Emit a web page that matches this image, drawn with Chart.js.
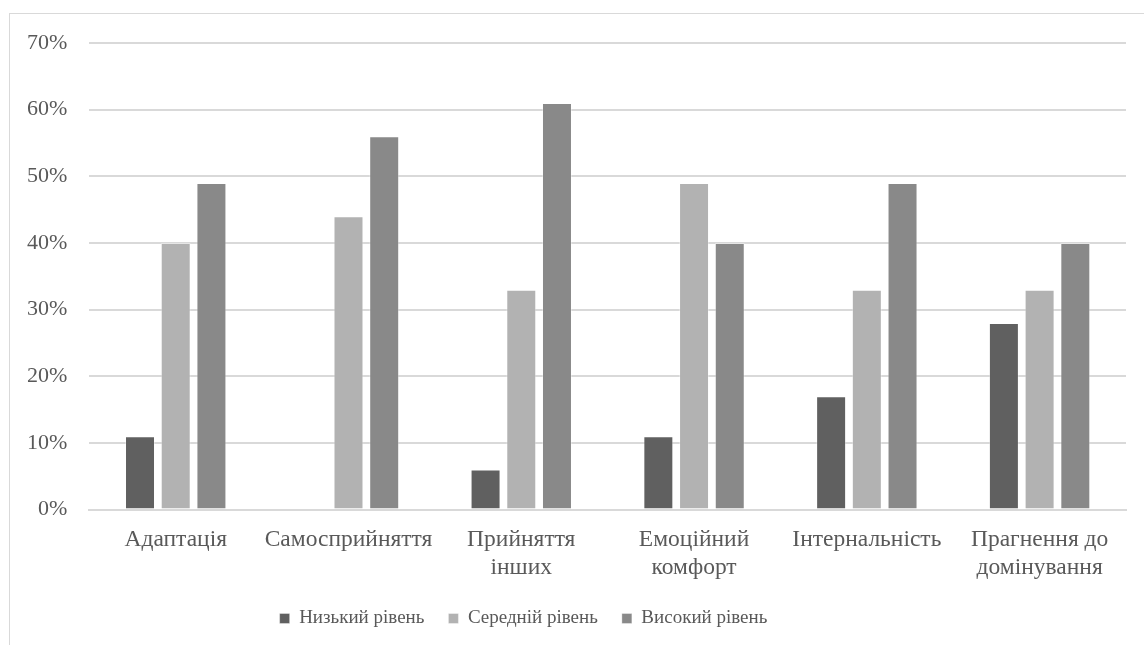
<!DOCTYPE html>
<html lang="uk">
<head>
<meta charset="utf-8">
<title>Рівні показників</title>
<script src="https://cdn.jsdelivr.net/npm/chart.js@4/dist/chart.umd.min.js"></script>
<style>
  html, body { margin: 0; padding: 0; background: #fff; overflow: hidden; }
  #frame {
    position: absolute; left: 9px; top: 13px;
    width: 1200px; height: 700px;
    border: 1px solid #d9d9d9;
  }
  #wrap { position: absolute; left: 0; top: 0; width: 1144px; height: 645px; }
</style>
</head>
<body>
<div id="frame"></div>
<div id="wrap"><canvas id="myChart"></canvas></div>
<script>
// категорії шкал
const categories = [
    "Адаптація",
    "Самосприйняття",
    ["Прийняття", "інших"],
    ["Емоційний", "комфорт"],
    "Інтернальність",
    ["Прагнення до", "домінування"]
]

// відсотки за рівнями
const lowLevel = [11, 0, 6, 11, 17, 28]
const midLevel = [40, 44, 33, 49, 33, 33]
const highLevel = [49, 56, 61, 40, 49, 40]

const seriesNames = ["Низький рівень", "Середній рівень", "Високий рівень"]
const seriesColors = ["#606060", "#b2b2b2", "#898989"]

const yTicks = [0, 10, 20, 30, 40, 50, 60, 70]

const textColor = "#595959"
const family = "'Liberation Serif', 'Times New Roman', serif"

function makeDataset(label, data, color) {
    return {
        label: label,
        data: data,
        backgroundColor: color,
        borderColor: "rgba(255,255,255,0.35)",
        borderWidth: 1,
        barPercentage: 0.84,
        categoryPercentage: 0.62
    }
}

// legend sits a little left of centre and a bit higher
const legendShift = {
    id: 'legendShift',
    afterLayout(chart) {
        const lg = chart.legend
        if (!lg) return;
        lg.left -= 42
        lg.right -= 42
        lg.top -= 7
        lg.bottom -= 7
    }
}

const ctx = document.getElementById('myChart');

new Chart(ctx, {
    type: 'bar',
    data: {
        labels: categories,
        datasets: [
            makeDataset(seriesNames[0], lowLevel, seriesColors[0]),
            makeDataset(seriesNames[1], midLevel, seriesColors[1]),
            makeDataset(seriesNames[2], highLevel, seriesColors[2])
        ]
    },
    options: {
        responsive: true,
        maintainAspectRatio: false,
        animation: false,
        layout: { padding: { top: 43, left: 5, right: 18, bottom: 0 } },
        scales: {
            x: {
                grid: { display: false, drawTicks: false },
                border: { display: true, color: "#d9d9d9", width: 2 },
                ticks: { color: textColor, font: { family: family, size: 23.5 }, padding: 16, maxRotation: 0, autoSkip: false },
                afterFit: function (axis) {
                    axis.height -= 6
                }
            },
            y: {
                min: 0,
                max: 70,
                afterBuildTicks: function (axis) {
                    axis.ticks = yTicks.map(v => ({ value: v }))
                },
                grid: { color: "#d9d9d9", lineWidth: 2, drawTicks: false },
                border: { display: false },
                ticks: {
                    color: textColor,
                    font: { family: family, size: 22 },
                    padding: 22,
                    callback: v => v + "%"
                }
            }
        },
        plugins: {
            legend: {
                position: 'bottom',
                labels: {
                    color: textColor,
                    font: { family: family, size: 19 },
                    boxWidth: 10,
                    boxHeight: 10,
                    padding: 24,
                    useBorderRadius: false
                }
            },
            tooltip: { enabled: false }
        }
    },
    plugins: [legendShift]
});
</script>
</body>
</html>
